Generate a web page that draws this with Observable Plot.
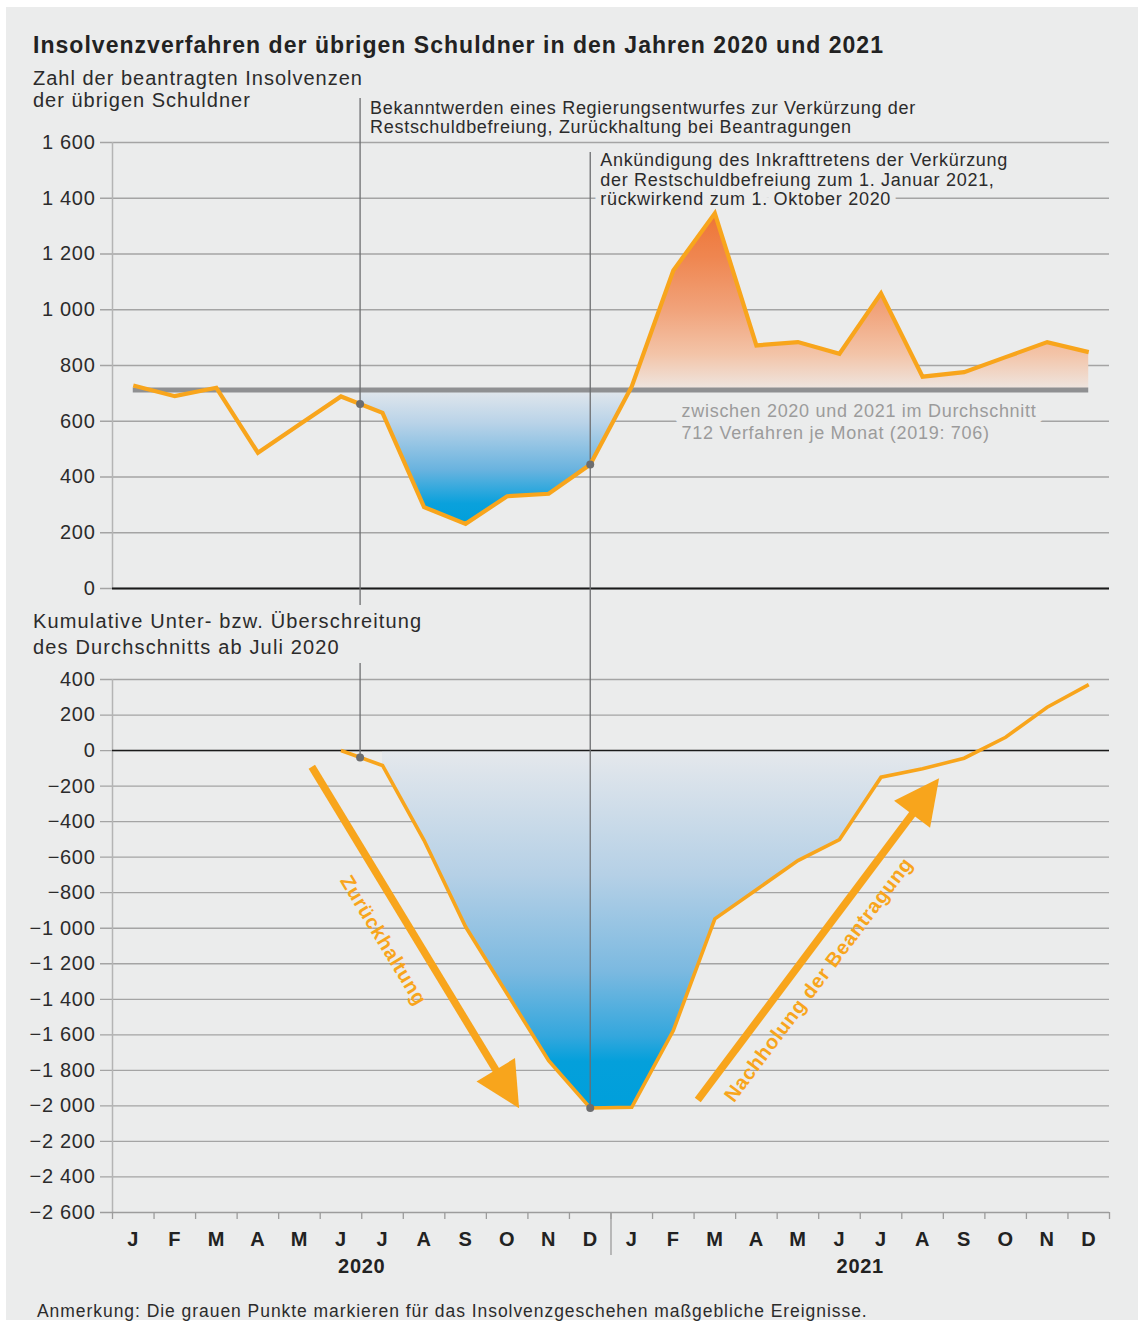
<!DOCTYPE html>
<html><head><meta charset="utf-8">
<script src="https://cdn.jsdelivr.net/npm/d3@7"></script>
<script src="https://cdn.jsdelivr.net/npm/@observablehq/plot@0.6"></script>
<style>
body{margin:0;background:#fff;font-family:"Liberation Sans",Arial,sans-serif;}
#wrap{position:relative;width:1144px;height:1324px;overflow:hidden;background:#fff}
#panel{position:absolute;left:6px;top:7px;width:1132px;height:1313px;background:#ebecec}
.chart{position:absolute;left:0}
.txt{position:absolute;left:33px;color:#2b2b2b;white-space:nowrap;letter-spacing:1px}
</style></head><body>
<div id="wrap">
<div id="panel"></div>
<div id="top" class="chart" style="top:0"></div>
<div id="bottom" class="chart" style="top:615px"></div>
<div class="txt" style="top:31px;font-size:23px;line-height:28px;font-weight:bold;color:#222;letter-spacing:1.03px">Insolvenzverfahren der übrigen Schuldner in den Jahren 2020 und 2021</div>
<div class="txt" style="top:66.7px;font-size:20px;line-height:22.7px">Zahl der beantragten Insolvenzen<br>der übrigen Schuldner</div>
<div class="txt" style="top:608.4px;font-size:20px;line-height:26px;letter-spacing:1.15px">Kumulative Unter- bzw. Überschreitung<br>des Durchschnitts ab Juli 2020</div>
<div class="txt" style="left:37px;top:1300.5px;font-size:17.5px;line-height:20px;letter-spacing:0.95px">Anmerkung: Die grauen Punkte markieren für das Insolvenzgeschehen maßgebliche Ereignisse.</div>
</div>
<script>
// ---------- data ----------
const monthLabels = ["J","F","M","A","M","J","J","A","S","O","N","D"];
const yearLabels = ["2020","2021"];
const monthly2020 = [728, 690, 720, 487, 588, 689, 630, 292, 232, 331, 340, 445];
const monthly2021 = [725, 1141, 1346, 872, 884, 842, 1059, 760, 776, 830, 884, 848];
const average = 712;
// cumulative deviation from the average, from June 2020 (index 5) to December 2021
const cumulativeStart = 5;
const cumulative = [0, -84, -505, -992, -1369, -1745, -2012, -2008, -1576, -947, -783, -619, -501, -150, -103, -43, 75, 244, 371];
const topTicks = [0, 200, 400, 600, 800, 1000, 1200, 1400, 1600];
const bottomTicks = [400, 200, 0, -200, -400, -600, -800, -1000, -1200, -1400, -1600, -1800, -2000, -2200, -2400, -2600];
// events (month position, value on top line, value on cumulative line)
const events = [
  {pos: 5.96, top: 662, bottom: -39},
  {pos: 11.5, top: 445, bottom: -2012}
];
const note1 = {pos: 5.96, y: 1634, text: "Bekanntwerden eines Regierungsentwurfes zur Verkürzung der\nRestschuldbefreiung, Zurückhaltung bei Beantragungen"};
const note2 = {pos: 11.5, y: 1376, text: "Ankündigung des Inkrafttretens der Verkürzung\nder Restschuldbefreiung zum 1. Januar 2021,\nrückwirkend zum 1. Oktober 2020"};
const avgNote = {pos: 13.7, y: 536, text: "zwischen 2020 und 2021 im Durchschnitt\n712 Verfahren je Monat (2019: 706)"};
const arrows = [
  {x1: 4.81, y1: -94, x2: 9.80, y2: -2016, label: "Zurückhaltung", lx: 6.52, ly: -1069},
  {x1: 14.10, y1: -1970, x2: 19.91, y2: -159, label: "Nachholung der Beantragung", lx: 17.0, ly: -1290}
];

// ---------- derived tables ----------
const monthly = monthly2020.concat(monthly2021);
const topSeries = monthly.map((v, i) => ({pos: i + 0.5, v}));
const bottomSeries = cumulative.map((v, i) => ({pos: cumulativeStart + i + 0.5, v}));
const monthTable = d3.range(24).map(i => ({pos: i + 0.5, m: monthLabels[i % 12]}));
const yearTable = yearLabels.map((y, i) => ({pos: i * 12 + 6, y}));

function withCrossings(pts, base) {
  const out = [];
  pts.forEach((b, i) => {
    if (i > 0) {
      const a = pts[i - 1];
      if ((a.v - base) * (b.v - base) < 0) {
        const t = (base - a.v) / (b.v - a.v);
        out.push({pos: a.pos + t * (b.pos - a.pos), v: base});
      }
    }
    out.push(b);
  });
  return out;
}
const topFill = withCrossings([{pos: events[0].pos, v: events[0].top}].concat(topSeries.slice(6)), average);
const bottomFill = withCrossings(bottomSeries.slice(1), 0);

const locale = d3.formatLocale({decimal: ",", thousands: " ", grouping: [3], currency: ["", "€"], minus: "\u2212"});
const fmt = locale.format(",d");

// ---------- style ----------
const W = 1144, ML = 112, MR = 35;
const orange = "#f8a51c", grey = "#6d6e70", ink = "#2b2b2b", gridC = "#a4a4a4", bg = "#ebecec";
const font = "'Liberation Sans', Arial, sans-serif";

function gradientDefs(list) {
  return () => {
    const d = d3.create("svg:defs");
    for (const [id, stops] of list) {
      const g = d.append("linearGradient").attr("id", id).attr("x1", 0).attr("y1", 0).attr("x2", 0).attr("y2", 1);
      for (const [o, c] of stops) g.append("stop").attr("offset", o).attr("stop-color", c);
    }
    return d.node();
  };
}

const noteOpts = {x: "pos", y: "y", text: "text", textAnchor: "start", lineAnchor: "bottom", fontSize: 18};

// ---------- top panel ----------
const topTop = 142, topBottom = 27, topH = 615;
const topPlot = Plot.plot({
  width: W, height: topH, marginLeft: ML, marginRight: MR, marginTop: topTop, marginBottom: topBottom,
  x: {domain: [0, 24], axis: null},
  y: {domain: [0, 1600], axis: null},
  style: {background: "transparent", fontFamily: font, overflow: "visible", letterSpacing: "0.7px"},
  marks: [
    gradientDefs([
      ["gTopBlue", [[0, "#e2e7ec"], [0.25, "#b9d3e8"], [0.6, "#69b3df"], [0.85, "#0aa1dc"], [1, "#009fdb"]]],
      ["gTopOrange", [[0, "#ee7435"], [0.25, "#ef8650"], [0.55, "#f1a37b"], [0.8, "#f3c4a8"], [1, "#eee6e1"]]]
    ]),
    Plot.ruleY(topTicks, {stroke: gridC, strokeWidth: 1.3, insetLeft: -12}),
    Plot.ruleX([0], {stroke: "#b4b4b4", strokeWidth: 1.5}),
    Plot.text(topTicks, {frameAnchor: "left", y: d => d, text: d => fmt(d), textAnchor: "end", dx: -17, fontSize: 20, fill: ink}),
    // knock-out halos behind the annotations that sit on gridlines
    Plot.text([note2], {...noteOpts, dx: 10, lineHeight: 1.07, fill: bg, stroke: bg, strokeWidth: 12}),
    Plot.text([avgNote], {...noteOpts, lineHeight: 1.22, fill: bg, stroke: bg, strokeWidth: 14}),
    Plot.text([note1, note2], {...noteOpts, dx: 10, lineHeight: 1.07, fill: ink}),
    Plot.text([avgNote], {...noteOpts, lineHeight: 1.22, fill: "#9b9b9b"}),
    Plot.areaY(topFill, {x: "pos", y1: () => average, y2: d => Math.min(d.v, average), fill: "url(#gTopBlue)", curve: "linear"}),
    Plot.areaY(topFill, {x: "pos", y1: () => average, y2: d => Math.max(d.v, average), fill: "url(#gTopOrange)", curve: "linear"}),
    Plot.ruleY([average], {x1: 0.5, x2: 23.5, stroke: "#8f9092", strokeWidth: 5}),
    Plot.ruleY([0], {stroke: "#1a1a1a", strokeWidth: 2}),
    Plot.ruleX([events[0]], {x: "pos", y1: 1758, y2: -61, stroke: grey, strokeWidth: 1.3}),
    Plot.ruleX([events[1]], {x: "pos", y1: 1564, y2: -97, stroke: grey, strokeWidth: 1.3}),
    Plot.line(topSeries, {x: "pos", y: "v", stroke: orange, strokeWidth: 4.2, strokeLinejoin: "miter", strokeMiterlimit: 10, strokeLinecap: "butt"}),
    Plot.dot(events, {x: "pos", y: "top", r: 4, fill: grey})
  ]
});
document.getElementById("top").appendChild(topPlot);

// ---------- bottom panel ----------
const botTop = 64, botBottom = 78, botH = 675;
const kx = (W - ML - MR) / 24, ky = (botH - botTop - botBottom) / 3000;
const arrowLabels = arrows.map(a => ({...a, angle: Math.atan2(-(a.y2 - a.y1) * ky, (a.x2 - a.x1) * kx) * 180 / Math.PI}));

function arrowMark(list) {
  return (index, scales) => {
    const sx = typeof scales.x === "function" ? scales.x : scales.scales.x.apply;
    const sy = typeof scales.y === "function" ? scales.y : scales.scales.y.apply;
    const g = d3.create("svg:g");
    for (const a of list) {
      const x1 = sx(a.x1), y1 = sy(a.y1), x2 = sx(a.x2), y2 = sy(a.y2);
      const L = Math.hypot(x2 - x1, y2 - y1), ux = (x2 - x1) / L, uy = (y2 - y1) / L;
      const hl = 45, hw = 22.5;
      const bx = x2 - ux * hl, by = y2 - uy * hl;
      g.append("line").attr("x1", x1).attr("y1", y1).attr("x2", bx + ux * 3).attr("y2", by + uy * 3)
        .attr("stroke", orange).attr("stroke-width", 7.5);
      g.append("path").attr("d", `M${x2},${y2}L${bx - uy * hw},${by + ux * hw}L${bx + uy * hw},${by - ux * hw}Z`).attr("fill", orange);
    }
    return g.node();
  };
}

const bottomPlot = Plot.plot({
  width: W, height: botH, marginLeft: ML, marginRight: MR, marginTop: botTop, marginBottom: botBottom,
  x: {domain: [0, 24], axis: null},
  y: {domain: [-2600, 400], axis: null},
  style: {background: "transparent", fontFamily: font, overflow: "visible", letterSpacing: "0.7px"},
  marks: [
    gradientDefs([
      ["gBotBlue", [[0, "#e5e8ec"], [0.35, "#b5d0e6"], [0.62, "#7bb9e0"], [0.8, "#34a7dd"], [0.87, "#04a0db"], [1, "#009fdb"]]]
    ]),
    Plot.ruleY(bottomTicks.filter(d => d !== -2600), {stroke: gridC, strokeWidth: 1.3, insetLeft: -12}),
    Plot.ruleX([0], {stroke: "#b4b4b4", strokeWidth: 1.5}),
    Plot.text(bottomTicks, {frameAnchor: "left", y: d => d, text: d => fmt(d), textAnchor: "end", dx: -17, fontSize: 20, fill: ink}),
    Plot.areaY(bottomFill, {x: "pos", y1: () => 0, y2: d => Math.min(d.v, 0), fill: "url(#gBotBlue)", curve: "linear"}),
    Plot.ruleY([0], {stroke: "#1a1a1a", strokeWidth: 1.6}),
    Plot.ruleY([-2600], {stroke: "#9c9c9c", strokeWidth: 1.5, insetLeft: -12}),
    Plot.ruleX(d3.range(25), {x: d => d, y1: -2600, y2: -2600, insetBottom: -7, stroke: "#9c9c9c", strokeWidth: 1.3}),
    Plot.ruleX([12], {x: d => d, y1: -2600, y2: -2600, insetBottom: -43, stroke: "#9c9c9c", strokeWidth: 1.3}),
    Plot.text(monthTable, {x: "pos", frameAnchor: "bottom", text: "m", dy: 33, fontSize: 20, fontWeight: "bold", fill: "#222"}),
    Plot.text(yearTable, {x: "pos", frameAnchor: "bottom", text: "y", dy: 60, fontSize: 20, fontWeight: "bold", fill: "#222"}),
    Plot.ruleX([events[0]], {x: "pos", y1: 490, y2: "bottom", stroke: grey, strokeWidth: 1.3}),
    Plot.ruleX([events[1]], {x: "pos", y1: 760, y2: "bottom", stroke: grey, strokeWidth: 1.3}),
    arrowMark(arrows),
    Plot.text(arrowLabels, {x: "lx", y: "ly", text: "label", rotate: "angle", fontSize: 20, fontWeight: "bold", fill: orange, letterSpacing: 0.4}),
    Plot.line(bottomSeries, {x: "pos", y: "v", stroke: orange, strokeWidth: 3.6, strokeLinejoin: "miter", strokeMiterlimit: 10, strokeLinecap: "butt"}),
    Plot.dot(events, {x: "pos", y: "bottom", r: 4, fill: grey})
  ]
});
document.getElementById("bottom").appendChild(bottomPlot);
</script>
</body></html>
